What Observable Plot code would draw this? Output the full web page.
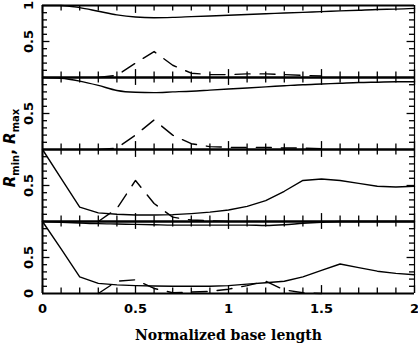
<!DOCTYPE html>
<html><head><meta charset="utf-8">
<script src="https://cdn.jsdelivr.net/npm/d3@7"></script>
<script src="https://cdn.jsdelivr.net/npm/@observablehq/plot@0.6"></script>
<style>body{margin:0;background:#fff}</style>
</head><body><div id="chart"></div>
<script>
// ---- data ----
const xGrid = [0,0.1,0.2,0.3,0.4,0.5,0.6,0.7,0.8,0.9,1.0,1.1,1.2,1.3,1.4,1.5,1.6,1.7,1.8,1.9,2.0];
const panel1Rmax = [1.0,1.0,0.97,0.92,0.87,0.84,0.83,0.835,0.845,0.855,0.865,0.875,0.885,0.895,0.905,0.915,0.925,0.935,0.945,0.95,0.96];
const panel1Dash = [null,null,null,0,0.03,0.2,0.36,0.17,0.06,0.04,0.04,0.05,0.05,0.04,0.03,0.02,null,null,null,null,null];
const panel2Rmax = [1.0,0.99,0.95,0.89,0.82,0.795,0.79,0.8,0.81,0.825,0.84,0.855,0.87,0.885,0.9,0.91,0.92,0.93,0.935,0.94,0.94];
const panel2Dash = [null,null,null,0,0.02,0.2,0.41,0.2,0.08,0.04,0.03,0.03,0.03,0.02,0.02,0.01,null,null,null,null,null];
const panel3Rmin = [1.0,0.6,0.2,0.12,0.1,0.09,0.09,0.095,0.11,0.13,0.16,0.21,0.29,0.42,0.57,0.59,0.57,0.53,0.49,0.48,0.49];
const panel3Dash = [null,null,null,0,0.18,0.57,0.25,0.06,0.02,0.01,0,null,null,null,null,null,null,null,null,null,null];
const panel4Rmax = [1.0,0.99,0.98,0.97,0.965,0.96,0.955,0.95,0.95,0.95,0.95,0.95,0.945,0.955,0.975,0.99,1.0,1.0,1.0,1.0,1.0];
const panel4Rmin = [1.0,0.62,0.23,0.14,0.12,0.11,0.105,0.1,0.1,0.1,0.11,0.13,0.15,0.17,0.23,0.32,0.41,0.36,0.31,0.28,0.26];
const panel4Dash = [null,null,null,0,0.17,0.19,0.07,0.01,0.02,0.03,0.06,0.11,0.17,0.05,0.01,0,null,null,null,null,null];
const xTickValues = [0,0.5,1,1.5,2];
const xTickLabels = ["0","0.5","1","1.5","2"];
const yTickValues = [0.5];
const yTickLabels = ["0.5"];
const xTitle = "Normalized base length";

// ---- build table ----
const rows = [];
function add(panel, series, vals, style) {
  vals.forEach((v, i) => rows.push({x: xGrid[i], y: v, panel, key: panel + series, style}));
}
add(1, "max", panel1Rmax, "smooth"); add(1, "d", panel1Dash, "dash");
add(2, "max", panel2Rmax, "smooth"); add(2, "d", panel2Dash, "dash");
add(3, "min", panel3Rmin, "solid"); add(3, "d", panel3Dash, "dash");
add(4, "max", panel4Rmax, "smooth"); add(4, "min", panel4Rmin, "solid"); add(4, "d", panel4Dash, "dash");

const minorX = d3.range(0, 21).map(i => i / 10);
const minorY = d3.range(1, 10).map(i => i / 10);
const isMajorX = d => Math.abs(d * 2 - Math.round(d * 2)) < 1e-9;
const isMajorY = d => Math.abs(d - 0.5) < 1e-9;

const yLabelRows = [];
[1,2,3,4].forEach(p => yTickValues.forEach((v, i) => yLabelRows.push({panel: p, v, t: yTickLabels[i]})));
yLabelRows.push({panel: 1, v: 1, t: "1"});
yLabelRows.push({panel: 4, v: 0, t: "0"});
const xLabelRows = xTickValues.map((v, i) => ({panel: 4, v, t: xTickLabels[i]}));

const font = "DejaVu Sans";
const chart = Plot.plot({
  width: 418, height: 346,
  marginTop: 3, marginBottom: 52, marginLeft: 42, marginRight: 4,
  x: {domain: [0, 2], axis: null},
  y: {domain: [0, 1], axis: null},
  fy: {domain: [1, 2, 3, 4], axis: null, padding: 0},
  style: {background: "white", overflow: "visible", fontFamily: font},
  marks: [
    Plot.ruleX(minorX, {x: d => d, y1: 0, y2: d => isMajorX(d) ? 0.11 : 0.075, stroke: "black", strokeWidth: 1.3}),
    Plot.ruleX(minorX, {x: d => d, y1: 1, y2: d => 1 - (isMajorX(d) ? 0.11 : 0.075), stroke: "black", strokeWidth: 1.3}),
    Plot.ruleY(minorY, {y: d => d, x1: 0, x2: d => isMajorY(d) ? 0.04 : 0.027, stroke: "black", strokeWidth: 1.3}),
    Plot.ruleY(minorY, {y: d => d, x1: 2, x2: d => 2 - (isMajorY(d) ? 0.04 : 0.027), stroke: "black", strokeWidth: 1.3}),
    Plot.ruleY([0, 1], {stroke: "black", strokeWidth: 2}),
    Plot.ruleX([0], {stroke: "black", strokeWidth: 2}),
    Plot.ruleX([2], {stroke: "black", strokeWidth: 1.2}),
    Plot.line(rows.filter(d => d.style === "smooth"), {x: "x", y: "y", z: "key", fy: "panel", stroke: "black", strokeWidth: 1.4, curve: "monotone-x"}),
    Plot.line(rows.filter(d => d.style === "solid"), {x: "x", y: "y", z: "key", fy: "panel", stroke: "black", strokeWidth: 1.4}),
    Plot.line(rows.filter(d => d.style === "dash"), {x: "x", y: "y", z: "key", fy: "panel", stroke: "black", strokeWidth: 1.4, strokeDasharray: "15,10"}),
    Plot.text(yLabelRows, {x: 0, y: "v", fy: "panel", text: "t", rotate: -90, dx: -14, fontSize: 13, fontWeight: "bold", fill: "black"}),
    Plot.text(xLabelRows, {x: "v", y: 0, fy: "panel", text: "t", dy: 15, fontSize: 13, fontWeight: "bold", fill: "black"}),
    Plot.text([{panel: 4, t: xTitle}], {x: 1, y: 0, fy: "panel", text: "t", dy: 42, fontSize: 14, fontWeight: "bold", fontFamily: "DejaVu Serif", fill: "black"})
  ]
});
document.getElementById("chart").appendChild(chart);

const svg = d3.select(chart);
const t = svg.append("text")
  .attr("transform", "translate(15,148) rotate(-90)")
  .attr("text-anchor", "middle")
  .attr("fill", "black")
  .style("font-family", font).style("font-weight", "bold").style("font-size", "15px");
t.append("tspan").attr("font-style", "italic").text("R");
t.append("tspan").attr("font-size", "10px").attr("dy", 4).text("min");
t.append("tspan").attr("dy", -4).text(", ");
t.append("tspan").attr("font-style", "italic").text("R");
t.append("tspan").attr("font-size", "10px").attr("dy", 4).text("max");
</script>
</body></html>
